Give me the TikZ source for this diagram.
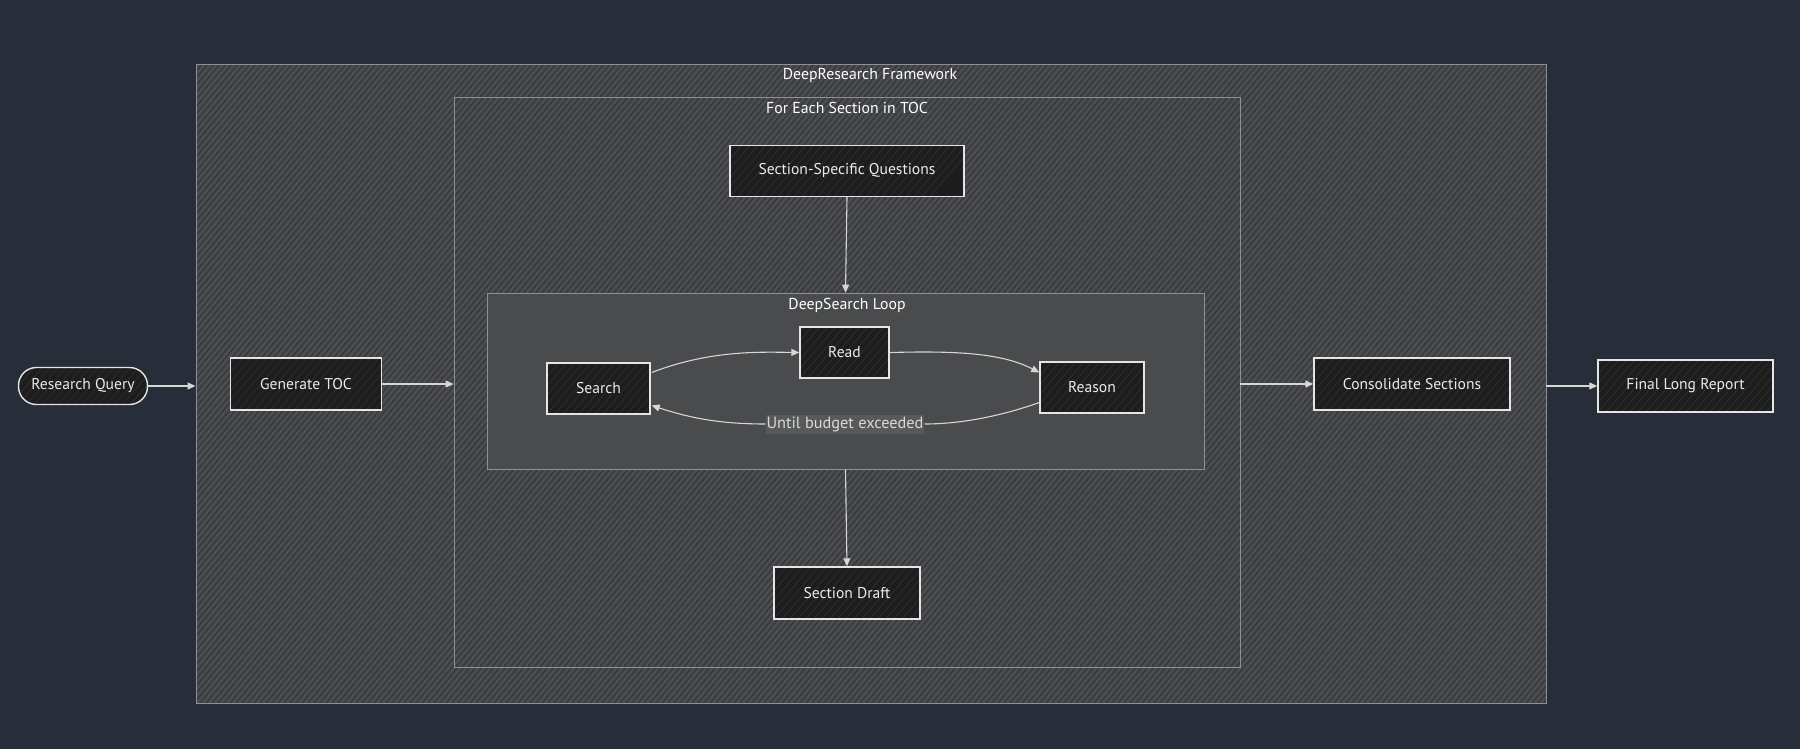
\documentclass[tikz,border=0pt]{standalone}
\usepackage{fontspec}
\setmainfont{PT Sans}
\usetikzlibrary{arrows.meta,calc}
\definecolor{bg}{HTML}{282D3A}
\definecolor{clus}{HTML}{4B4D51}
\definecolor{stripe}{HTML}{383A3E}
\definecolor{loopfill}{HTML}{4A4B4D}
\definecolor{nodefill}{HTML}{1D1D1D}
\definecolor{nodestripe}{HTML}{2E2E2E}
\definecolor{edgec}{HTML}{D6D6D6}
\definecolor{clusborder}{HTML}{8E9094}
\definecolor{lblfill}{HTML}{58595B}
\tikzset{
  boxnode/.style={draw=white!90!black, line width=1.4pt, fill=nodefill, text=white!92!black,
    font=\fontsize{15.6}{18}\selectfont, inner sep=0pt, path picture={
      \foreach \k in {-200,-192,...,200}
        \draw[nodestripe, line width=0.8pt] ([xshift=\k pt]path picture bounding box.south west) -- ++(60pt,70pt);
    }},
  clusterbox/.style={draw=clusborder, line width=0.8pt, inner sep=0pt},
  ctitle/.style={text=white, font=\fontsize{15.8}{18}\selectfont},
  flow/.style={draw=edgec, line width=1.1pt, -{Triangle[length=8pt,width=7pt]}},
}
\begin{document}
\begin{tikzpicture}[x=1pt,y=-1pt]
\fill[bg] (0,0) rectangle (1800,749);
\useasboundingbox (0,0) rectangle (1800,749);
% outer cluster
\fill[clus] (196,64) rectangle (1546,703);
\begin{scope}
\clip (196,64) rectangle (1546,703);
\foreach \i in {-340,-334,...,1546} \draw[stripe, line width=1.6pt] (\i,703) -- ++(536,-639);
\end{scope}
\node[clusterbox, minimum width=1350pt, minimum height=639pt] (outer) at (871,383.5) {};
\node[ctitle] (outerT) at (870,75) {DeepResearch Framework};
% inner cluster
\fill[clus] (454,97) rectangle (1240,667);
\begin{scope}
\clip (454,97) rectangle (1240,667);
\foreach \i in {-30,-24,...,1240} \draw[stripe, line width=1.6pt] (\i,667) -- ++(478,-570);
\end{scope}
\node[clusterbox, minimum width=786pt, minimum height=570pt] (inner) at (847,382) {};
\node[ctitle] (innerT) at (847,108) {For Each Section in TOC};
% loop cluster
\node[clusterbox, fill=loopfill, minimum width=717pt, minimum height=176pt] (loop) at (845.5,381) {};
\node[ctitle] (loopT) at (847,305) {DeepSearch Loop};
% nodes
\node[boxnode, rounded corners=18pt, minimum width=129pt, minimum height=37pt] (rq) at (83,386) {Research Query};
\node[boxnode, minimum width=151pt, minimum height=52pt] (gen) at (306,384) {Generate TOC};
\node[boxnode, minimum width=234pt, minimum height=51pt] (ssq) at (847,171) {Section-Specific Questions};
\node[boxnode, minimum width=89pt, minimum height=51pt] (read) at (844.5,352.5) {Read};
\node[boxnode, minimum width=103pt, minimum height=51pt] (search) at (598.5,388.5) {Search};
\node[boxnode, minimum width=104pt, minimum height=51pt] (reason) at (1092,387.5) {Reason};
\node[boxnode, minimum width=146pt, minimum height=52pt] (draft) at (847,593) {Section Draft};
\node[boxnode, minimum width=196pt, minimum height=52pt] (cons) at (1412,384) {Consolidate Sections};
\node[boxnode, minimum width=175pt, minimum height=52pt] (final) at (1685.5,386) {Final Long Report};
\node[fill=lblfill, text=white!85!black, font=\fontsize{16.3}{19}\selectfont, inner xsep=1pt, inner ysep=2pt] (lbl) at (845,424) {Until budget exceeded};
% edges
\draw[flow] (rq.east) -- (outer.west |- rq.east);
\draw[flow] (gen.east) -- (inner.west |- gen.east);
\draw[flow] (ssq.south) -- (loop.north);
\draw[flow] (loop.south) -- (draft.north);
\draw[flow] (inner.east |- cons.west) -- (cons.west);
\draw[flow] (outer.east |- final.west) -- (final.west);
\draw[flow] ($(search.east)+(1,-16)$) .. controls (710,350) and (760,352) .. (read.west);
\draw[flow] (read.east) .. controls (950,351) and (1000,352) .. ($(reason.west)+(0,-15)$);
\draw[draw=edgec, line width=1.1pt] ($(reason.west)+(0,15)$) .. controls (990,420) and (950,424) .. (lbl.east);
\draw[flow] (lbl.west) .. controls (720,424) and (690,418) .. ($(search.east)+(1,17)$);
\end{tikzpicture}
\end{document}
